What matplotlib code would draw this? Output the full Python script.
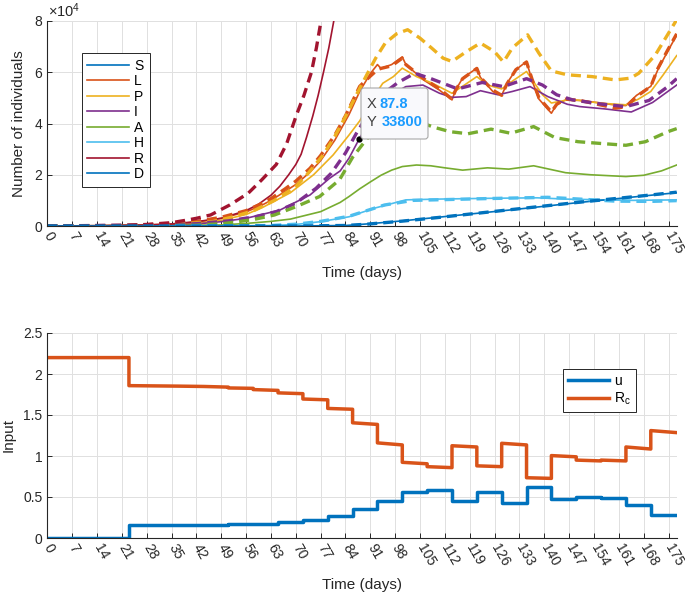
import matplotlib
matplotlib.use('Agg')
import matplotlib.pyplot as plt
from matplotlib.patches import FancyBboxPatch
from matplotlib.transforms import IdentityTransform

plt.rcParams['font.family'] = ['Liberation Sans', 'DejaVu Sans']
plt.rcParams['mathtext.fontset'] = 'custom'
plt.rcParams['mathtext.rm'] = 'Liberation Sans'
plt.rcParams['mathtext.it'] = 'Liberation Sans:italic'

# ------------------------------------------------------------------ data
tick_days = list(range(0, 176, 7))
x_max = 177.3

# top panel (values in units of 1e4 individuals); solid = model, dashed = second run
S_t, S_v = [], []  # susceptible: far above the visible range

L_t = [0, 14, 28, 35, 42, 49, 56, 60, 63, 67, 70, 74, 77, 81, 85, 88, 91, 93, 94, 97,
       100, 101, 106, 110.5, 114, 115, 117, 121, 122, 125.5, 128, 129.5, 132, 135, 136.5,
       138.5, 142, 143.5, 146, 150, 156, 160, 163, 166, 170, 172, 174.5, 177.3]
L_v = [0, 0.01, 0.04, 0.08, 0.15, 0.3, 0.55, 0.78, 1.0, 1.35, 1.62, 2.1, 2.55, 3.35, 4.35,
       5.25, 5.95, 6.3, 6.15, 6.3, 6.6, 6.3, 5.7, 5.3, 4.92, 5.3, 5.77, 6.16, 5.8, 5.25,
       5.1, 5.57, 6.1, 6.42, 5.7, 4.95, 4.4, 4.75, 4.92, 4.9, 4.8, 4.72, 4.7, 5.1, 5.45,
       6.1, 6.75, 7.45]
Ld_t = [0, 21, 28, 35, 42, 49, 56, 60, 63, 67, 70, 74, 77, 81, 84, 88, 91, 93, 94, 97,
        100, 101, 106, 110.5, 114, 115, 117, 121, 122, 125.5, 128, 129.5, 132, 135, 136.5,
        138.5, 142, 143.5, 146, 150, 156, 160, 163, 166, 170, 172, 174.5, 177.3]
Ld_v = [0, 0.02, 0.05, 0.1, 0.18, 0.34, 0.6, 0.85, 1.07, 1.45, 1.75, 2.25, 2.75, 3.55, 4.3,
        5.45, 5.85, 6.1, 6.15, 6.25, 6.55, 6.3, 5.75, 5.35, 4.95, 5.3, 5.75, 6.15, 5.8, 5.3,
        5.1, 5.55, 6.1, 6.4, 5.75, 5.0, 4.45, 4.75, 4.95, 4.9, 4.72, 4.6, 4.65, 5.05, 5.45,
        6.15, 6.8, 7.5]

P_t = [0, 21, 28, 35, 42, 49, 56, 61, 68.5, 75, 80.5, 85, 88, 92, 94.5, 97.5, 100, 104,
       108.5, 114, 117.5, 121, 124, 128, 131.5, 135, 139.5, 142, 146.5, 149, 156, 163,
       166.5, 170, 173.5, 177.3]
P_v = [0, 0.01, 0.03, 0.06, 0.1, 0.22, 0.45, 0.75, 1.3, 2.0, 2.77, 3.55, 4.1, 5.05, 5.57,
       5.83, 6.16, 5.83, 5.57, 5.18, 5.5, 5.83, 5.5, 5.35, 5.7, 6.03, 5.12, 4.8, 4.92, 4.92,
       4.79, 4.73, 4.95, 5.25, 5.9, 6.65]
Pd_t = [0, 21, 28, 35, 42, 46.5, 52.5, 58.5, 64, 70, 73.5, 77.7, 81, 84, 87, 90, 92.5, 95.2,
        98.4, 101.5, 105, 108.3, 111.5, 114, 118, 122, 126, 128.5, 131, 135.3, 138.5, 142,
        146.5, 153.5, 160, 164.3, 166.6, 171.3, 177.3]
Pd_v = [0, 0.01, 0.04, 0.08, 0.12, 0.17, 0.36, 0.62, 1.0, 1.54, 2.06, 2.77, 3.5, 4.27, 5.1,
        5.9, 6.55, 7.14, 7.5, 7.66, 7.33, 6.94, 6.55, 6.42, 6.8, 7.14, 6.8, 6.4, 6.95, 7.46,
        6.74, 6.05, 5.9, 5.83, 5.7, 5.77, 5.96, 6.68, 8.05]

I_t = [0, 28, 35, 42, 49, 56, 65.5, 74, 79.5, 82.5, 85, 87.8, 91.8, 96, 101, 105.8, 110.5,
       114, 118, 122, 127, 131, 136, 141, 146.5, 150, 157, 164.5, 170.5, 177.3]
I_v = [0, 0.02, 0.04, 0.08, 0.17, 0.3, 0.62, 1.21, 1.86, 2.15, 2.65, 3.38, 4.34, 5.05, 5.44,
       5.5, 5.18, 5.02, 5.05, 5.28, 5.12, 5.25, 5.44, 5.05, 4.75, 4.66, 4.57, 4.45, 4.82, 5.5]
Id_t = [0, 35, 42, 51, 58.5, 64.5, 70, 75.7, 80, 84, 87, 91, 94, 98.8, 103.5, 107.7, 115.6,
        122.5, 128.5, 135, 139.5, 143.5, 148, 156, 163, 169.5, 174.8, 177.3]
Id_v = [0, 0.05, 0.09, 0.2, 0.36, 0.56, 0.89, 1.47, 2.06, 2.85, 3.6, 4.5, 5.1, 5.6, 5.96,
        5.77, 5.35, 5.6, 5.44, 5.75, 5.5, 5.12, 4.92, 4.76, 4.66, 4.9, 5.44, 5.75]

A_t = [0, 49, 56, 63, 68.5, 77, 82.5, 85, 88, 91, 94, 97, 100, 104, 108, 112, 117, 124,
       130, 137, 142, 146, 153, 163, 168, 173, 177.3]
A_v = [0, 0.04, 0.1, 0.18, 0.27, 0.56, 0.92, 1.15, 1.45, 1.72, 1.98, 2.18, 2.32, 2.38, 2.35,
       2.27, 2.18, 2.27, 2.22, 2.35, 2.2, 2.08, 2.0, 1.93, 1.98, 2.15, 2.38]
Ad_t = [0, 42, 50, 58, 64, 70, 76.7, 82.3, 86, 90, 94.5, 98.5, 102, 106, 109, 113.5, 118.5,
        125, 130.5, 137, 143, 149.5, 156, 163, 168.5, 174.8, 177.3]
Ad_v = [0, 0.03, 0.1, 0.25, 0.43, 0.75, 1.15, 1.8, 2.68, 3.4, 4.0, 4.3, 4.2, 4.0, 3.85, 3.68,
        3.6, 3.78, 3.62, 3.88, 3.45, 3.29, 3.22, 3.15, 3.29, 3.68, 3.8]

H_t = [0, 56, 63, 70, 77, 85, 92, 101, 110, 124, 138, 146, 157, 165, 177.3]
H_v = [0, 0.01, 0.02, 0.06, 0.17, 0.36, 0.69, 1.02, 1.05, 1.08, 1.1, 1.05, 1.02, 1.0, 1.02]
Hd_t = [0, 56, 63, 70, 77, 85, 95, 103, 124, 141, 150, 160, 170, 177.3]
Hd_v = [0, 0.01, 0.02, 0.07, 0.18, 0.38, 0.82, 1.0, 1.07, 1.12, 1.05, 0.97, 0.96, 0.99]

R_t = [0, 14, 28, 35, 42, 49, 56, 59.5, 63, 65.5, 68, 70, 71.5, 73, 74.8, 76.3, 77.8, 79.3,
       80.7, 82]
R_v = [0, 0.01, 0.04, 0.08, 0.17, 0.3, 0.6, 0.85, 1.2, 1.55, 2.0, 2.4, 2.8, 3.45, 4.3, 5.1,
       6.0, 6.95, 8.0, 9.2]
Rd_t = [0, 21, 28, 35, 39.3, 42, 46, 51.4, 56.6, 60.4, 64.5, 67.4, 70.1, 72.3, 74.4, 75.8,
        77.1, 78.5]
Rd_v = [0, 0.02, 0.06, 0.13, 0.23, 0.3, 0.43, 0.82, 1.28, 1.8, 2.4, 3.2, 4.3, 5.1, 6.0, 6.95,
        8.0, 9.0]

D_t = [0, 70, 84, 90, 100, 110, 120, 130, 140, 150, 160, 170, 177.3]
D_v = [0, 0.0, 0.02, 0.08, 0.2, 0.34, 0.48, 0.62, 0.77, 0.92, 1.06, 1.2, 1.3]
Dd_v = [0, 0.0, 0.02, 0.07, 0.19, 0.33, 0.48, 0.63, 0.78, 0.93, 1.07, 1.21, 1.32]

tip_x, tip_y = 87.8, 33800

# bottom panel: weekly piecewise-constant inputs
seg_edges = [0, 23, 30, 37, 44, 51, 58, 65, 72, 79, 86, 93, 100, 107, 114, 121, 128, 135,
             142, 149, 156, 163, 170, 177.3]
u_vals = [0, 0.155, 0.156, 0.158, 0.16, 0.165, 0.175, 0.19, 0.22, 0.272, 0.35, 0.455, 0.557,
          0.58, 0.45, 0.565, 0.423, 0.626, 0.476, 0.496, 0.49, 0.40, 0.28]
Rc_start = [2.2, 1.858, 1.855, 1.852, 1.848, 1.83, 1.81, 1.77, 1.695, 1.58, 1.405, 1.16,
            0.923, 0.87, 1.125, 0.88, 1.155, 0.735, 1.005, 0.95, 0.95, 1.11, 1.31]
Rc_end = [2.2, 1.855, 1.852, 1.848, 1.84, 1.825, 1.8, 1.76, 1.685, 1.57, 1.385, 1.135,
          0.905, 0.858, 1.11, 0.87, 1.135, 0.727, 0.99, 0.94, 0.94, 1.085, 1.285]

# ------------------------------------------------------------------ style
C_BLUE = '#0072BD'; C_OR = '#D95319'; C_YEL = '#EDB120'; C_PUR = '#7E2F8E'
C_GRN = '#77AC30'; C_LB = '#4DBEEE'; C_RED = '#A2142F'
AXC = '#262626'
GRIDC = '#e0e0e0'

W, H = 685, 595
fig = plt.figure(figsize=(W / 100, H / 100), dpi=100)
left, right = 47.3, 676.7
ax1 = fig.add_axes([left / W, 1 - 226 / H, (right - left) / W, 205 / H])
ax2 = fig.add_axes([left / W, 1 - 538 / H, (right - left) / W, 205 / H])


def style(ax):
    ax.set_xlim(0, x_max)
    ax.set_xticks(tick_days)
    ax.set_xticklabels([str(d) for d in tick_days], rotation=-60, ha='left', va='center',
                       rotation_mode='anchor')
    ax.grid(True, color=GRIDC, lw=0.7)
    ax.set_axisbelow(True)
    for s in ['top', 'right']:
        ax.spines[s].set_visible(False)
    for s in ['left', 'bottom']:
        ax.spines[s].set_color(AXC)
        ax.spines[s].set_linewidth(0.8)
    ax.tick_params(direction='in', length=3.5, width=0.7, colors=AXC, labelsize=10)
    ax.tick_params(axis='x', pad=5)
    ax.set_xlabel('Time (days)', fontsize=11, color=AXC)
    ax.xaxis.set_label_coords(0.5, -0.229)
    ax.xaxis.label.set_va('center')


style(ax1)
style(ax2)

thin = 1.2
thick = 2.4
dash = (3.0, 1.8)
series = [
    ('S', S_t, S_v, None, None, C_BLUE),
    ('L', L_t, L_v, Ld_t, Ld_v, C_OR),
    ('P', P_t, P_v, Pd_t, Pd_v, C_YEL),
    ('I', I_t, I_v, Id_t, Id_v, C_PUR),
    ('A', A_t, A_v, Ad_t, Ad_v, C_GRN),
    ('H', H_t, H_v, Hd_t, Hd_v, C_LB),
    ('R', R_t, R_v, Rd_t, Rd_v, C_RED),
    ('D', D_t, D_v, D_t, Dd_v, C_BLUE),
]
handles = []
for name, t, v, td, vd, c in series:
    h, = ax1.plot(t, v, color=c, lw=thin, label=name)
    handles.append(h)
for name, t, v, td, vd, c in series:
    if td is not None:
        ax1.plot(td, vd, color=c, lw=thick, ls=(0, dash), dash_capstyle='butt')

ax1.set_ylim(0, 8)
ax1.set_yticks([0, 2, 4, 6, 8])
ax1.set_yticklabels(['0', '2', '4', '6', '8'])
ax1.set_ylabel('Number of individuals', fontsize=11, color=AXC)
ax1.yaxis.set_label_coords(-0.045, 0.5)
ax1.yaxis.label.set_va('center')
fig.text(48.5 / W, 1 - 20 / H, r'$\times10^{4}$', fontsize=10.5, color=AXC, ha='left', va='bottom')

leg1 = ax1.legend(handles=handles, loc='upper left', bbox_to_anchor=(0.055, 0.844),
                  borderaxespad=0, fontsize=10, handlelength=3.0, handletextpad=0.35,
                  labelspacing=0.11, borderpad=0.4, fancybox=False, framealpha=1,
                  edgecolor=AXC)
leg1.get_frame().set_linewidth(0.7)

# data tip
ax1.plot([tip_x], [tip_y / 1e4], 'o', color='black', ms=3.5, zorder=10)
box = FancyBboxPatch((361, H - 139), 67, 51, boxstyle='round,pad=0,rounding_size=3',
                     transform=IdentityTransform(), facecolor='#f9f9fc', edgecolor='#a8a8a8',
                     lw=0.8, zorder=20)
fig.add_artist(box)
fig.text(367 / W, 1 - 103.5 / H, 'X', fontsize=10.5, color='#404040', ha='left', va='center', zorder=21)
fig.text(380 / W, 1 - 103.5 / H, f'{tip_x}', fontsize=10.5, color='#1a9bff', fontweight='bold',
         ha='left', va='center', zorder=21)
fig.text(367 / W, 1 - 122 / H, 'Y', fontsize=10.5, color='#404040', ha='left', va='center', zorder=21)
fig.text(381.5 / W, 1 - 122 / H, f'{tip_y}', fontsize=10.5, color='#1a9bff', fontweight='bold',
         ha='left', va='center', zorder=21)

# bottom panel
ux, uy = [], []
for i, val in enumerate(u_vals):
    ux += [seg_edges[i], seg_edges[i + 1]]
    uy += [val, val]
rx, ry = [], []
for i in range(len(Rc_start)):
    rx += [seg_edges[i], seg_edges[i + 1]]
    ry += [Rc_start[i], Rc_end[i]]
ax2.plot(ux, uy, color=C_BLUE, lw=2.5, label='u')
ax2.plot(rx, ry, color=C_OR, lw=2.5, label=r'R$_\mathrm{c}$')
ax2.set_ylim(0, 2.5)
ax2.set_yticks([0, 0.5, 1, 1.5, 2, 2.5])
ax2.set_yticklabels(['0', '0.5', '1', '1.5', '2', '2.5'])
ax2.set_ylabel('Input', fontsize=11, color=AXC)
ax2.yaxis.set_label_coords(-0.061, 0.5)
ax2.yaxis.label.set_va('center')
leg2 = ax2.legend(loc='upper left', bbox_to_anchor=(0.819, 0.823), borderaxespad=0,
                  fontsize=10, handlelength=3.0, handletextpad=0.35, labelspacing=0.2,
                  borderpad=0.35, fancybox=False, framealpha=1, edgecolor=AXC)
leg2.get_frame().set_linewidth(0.7)

fig.savefig('out.png', dpi=100)
